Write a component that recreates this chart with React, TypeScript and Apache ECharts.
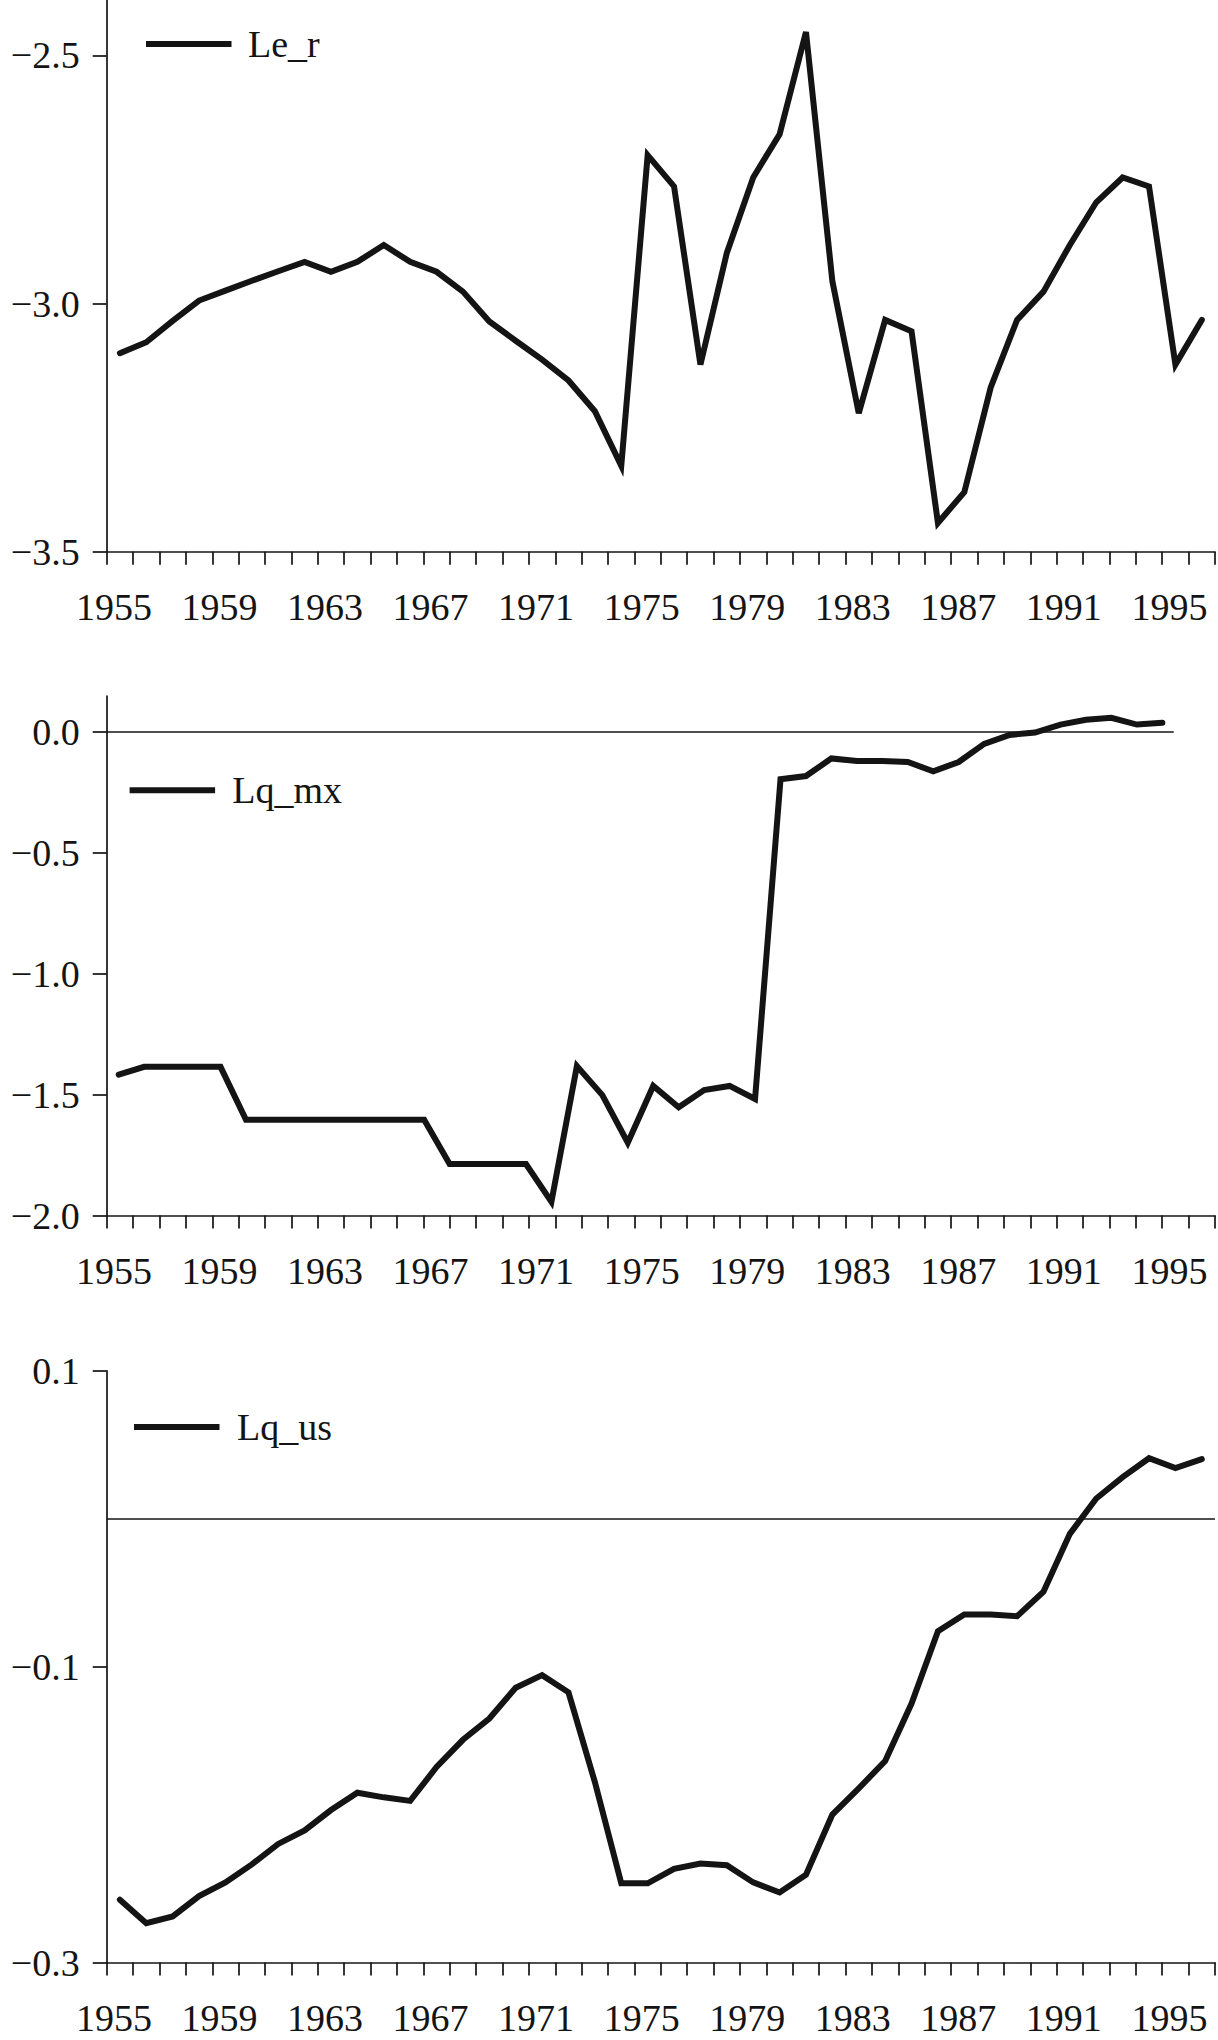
import React, { useEffect, useRef } from "react";
import * as echarts from "echarts";

const YEARS = [
  "1955", "1956", "1957", "1958", "1959", "1960", "1961", "1962", "1963", "1964",
  "1965", "1966", "1967", "1968", "1969", "1970", "1971", "1972", "1973", "1974",
  "1975", "1976", "1977", "1978", "1979", "1980", "1981", "1982", "1983", "1984",
  "1985", "1986", "1987", "1988", "1989", "1990", "1991", "1992", "1993", "1994",
  "1995", "1996",
];

const LE_R = [
  -3.1, -3.078, -3.035, -2.994, -2.974, -2.954, -2.935, -2.916, -2.936, -2.916,
  -2.882, -2.916, -2.936, -2.976, -3.036, -3.075, -3.113, -3.155, -3.217, -3.327,
  -2.701, -2.764, -3.123, -2.898, -2.746, -2.659, -2.453, -2.955, -3.221, -3.033,
  -3.056, -3.442, -3.38, -3.169, -3.033, -2.976, -2.882, -2.796, -2.746, -2.764,
  -3.123, -3.033,
];

const LQ_MX = [
  -1.417, -1.385, -1.385, -1.385, -1.385, -1.604, -1.604, -1.604, -1.604, -1.604,
  -1.604, -1.604, -1.604, -1.787, -1.787, -1.787, -1.787, -1.943, -1.382, -1.502,
  -1.699, -1.464, -1.552, -1.481, -1.464, -1.518, -0.196, -0.183, -0.11, -0.121,
  -0.121, -0.125, -0.163, -0.125, -0.05, -0.013, -0.003, 0.03, 0.05, 0.058,
  0.03, 0.037,
];

const LQ_US = [
  -0.2575, -0.2734, -0.2688, -0.255, -0.2458, -0.2336, -0.2198, -0.2107, -0.1969, -0.1852,
  -0.1883, -0.1907, -0.1678, -0.1494, -0.135, -0.1142, -0.1057, -0.1173, -0.178, -0.2464,
  -0.2464, -0.2366, -0.233, -0.2342, -0.2458, -0.2526, -0.2406, -0.1999, -0.1822, -0.1638,
  -0.1249, -0.076, -0.0647, -0.0647, -0.0659, -0.0493, -0.0102, 0.0137, 0.0281, 0.0409,
  0.0342, 0.0403,
];

const LE_R_TICKS = [-3.5, -3.0, -2.5];
const LQ_MX_TICKS = [-2.0, -1.5, -1.0, -0.5, 0.0];
const LQ_US_TICKS = [-0.3, -0.1, 0.1];

const INK = "#141414";
const FONT = "Liberation Serif";
const FS = 38;

const fmt = (v: number) => {
  const s = Number(v).toFixed(1);
  return s.startsWith("-") ? "\u2212" + s.slice(1) : s;
};

const axisLineStyle = { color: INK, width: 1.7 };

function catAxis(gridIndex: number) {
  return {
    type: "category",
    gridIndex,
    data: YEARS,
    boundaryGap: true,
    axisLine: { show: true, onZero: false, lineStyle: axisLineStyle },
    axisTick: { show: true, interval: 0, alignWithLabel: false, length: 13, lineStyle: axisLineStyle },
    axisLabel: {
      interval: 3,
      margin: 36,
      fontSize: FS,
      fontFamily: FONT,
      color: INK,
      padding: [0, 12, 0, 0],
    },
    splitLine: { show: false },
  };
}

function valAxis(gridIndex: number, min: number, max: number, ticks: number[]) {
  return {
    type: "value",
    gridIndex,
    min,
    max,
    axisLine: { show: true, onZero: false, lineStyle: axisLineStyle },
    axisTick: { show: true, length: 14, customValues: ticks, lineStyle: axisLineStyle },
    axisLabel: {
      customValues: ticks,
      margin: 27,
      fontSize: FS,
      fontFamily: FONT,
      color: INK,
      formatter: (v: number) => fmt(v),
    },
    splitLine: { show: false },
  };
}

const lineStyle = { color: INK, width: 6, cap: "round", join: "miter" };

const legendCommon = {
  orient: "horizontal",
  padding: 0,
  icon: "rect",
  itemWidth: 85.5,
  itemHeight: 6,
  selectedMode: false,
  itemStyle: { color: INK, borderWidth: 0 },
  textStyle: { fontSize: FS, fontFamily: FONT, color: INK },
};

const zeroLine = {
  silent: true,
  symbol: ["none", "none"],
  label: { show: false },
  lineStyle: { color: INK, width: 1.7, type: "solid" },
  emphasis: { disabled: true },
};

function buildOption() {
  return {
    animation: false,
    backgroundColor: "#ffffff",
    grid: [
      { left: 106.7, top: 0, width: 1108.3, height: 551.7 },
      { left: 106.7, top: 696, width: 1108.3, height: 519.6 },
      { left: 106.7, top: 1370.8, width: 1108.3, height: 591.8 },
    ],
    xAxis: [
      catAxis(0),
      catAxis(1),
      catAxis(2),
      { type: "value", gridIndex: 1, min: 1954.528, max: 1998.07, show: false },
    ],
    yAxis: [
      valAxis(0, -3.5, -2.3884, LE_R_TICKS),
      valAxis(1, -2.0, 0.148, LQ_MX_TICKS),
      valAxis(2, -0.3, 0.1, LQ_US_TICKS),
    ],
    legend: [
      {
        ...legendCommon,
        data: ["Le_r"],
        left: 146,
        top: 25,
        textStyle: { ...legendCommon.textStyle, padding: [0, 0, 0, 11.5] },
      },
      {
        ...legendCommon,
        data: ["Lq_mx"],
        left: 129.6,
        top: 771.3,
        textStyle: { ...legendCommon.textStyle, padding: [0, 0, 0, 12.2] },
      },
      {
        ...legendCommon,
        data: ["Lq_us"],
        left: 134,
        top: 1407.9,
        textStyle: { ...legendCommon.textStyle, padding: [0, 0, 0, 12.5] },
      },
    ],
    series: [
      {
        name: "Le_r",
        type: "line",
        xAxisIndex: 0,
        yAxisIndex: 0,
        data: LE_R,
        symbol: "none",
        color: INK,
        lineStyle,
      },
      {
        name: "Lq_mx",
        type: "line",
        xAxisIndex: 3,
        yAxisIndex: 1,
        data: YEARS.map((y, i) => [Number(y), LQ_MX[i]]),
        symbol: "none",
        color: INK,
        lineStyle,
        markLine: {
          ...zeroLine,
          data: [[{ coord: [1954.528, 0] }, { coord: [1996.45, 0] }]],
        },
      },
      {
        name: "Lq_us",
        type: "line",
        xAxisIndex: 2,
        yAxisIndex: 2,
        data: LQ_US,
        symbol: "none",
        color: INK,
        lineStyle,
        markLine: { ...zeroLine, data: [{ yAxis: 0 }] },
      },
    ],
  };
}

export default function App() {
  const ref = useRef<HTMLDivElement>(null);
  useEffect(() => {
    document.body.style.margin = "0";
    const chart = echarts.init(ref.current as HTMLDivElement, null, { renderer: "svg" });
    chart.setOption(buildOption() as any);
    return () => chart.dispose();
  }, []);
  return <div ref={ref} style={{ width: 1218, height: 2040, background: "#fff" }} />;
}
